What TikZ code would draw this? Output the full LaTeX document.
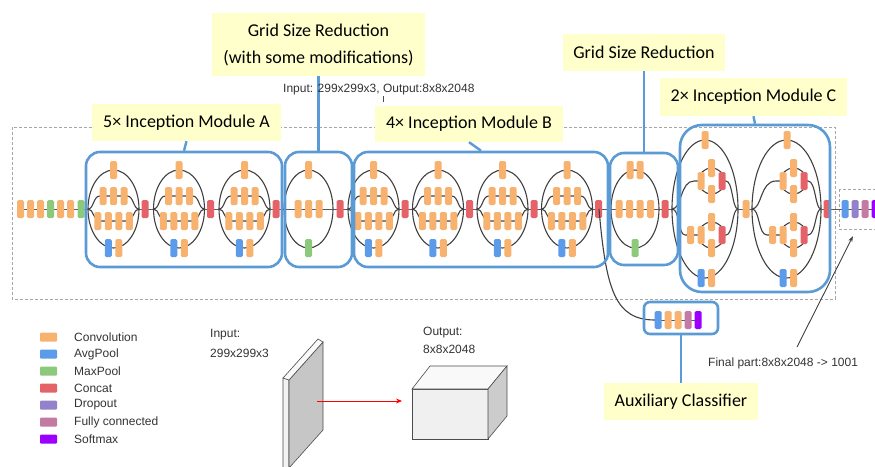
\documentclass[tikz,border=0pt]{standalone}
\usepackage{fontspec}
\setmainfont{Liberation Sans}
\newfontfamily\calfont{Carlito}
\usetikzlibrary{arrows.meta}
\definecolor{cconv}{HTML}{F8B26F}
\definecolor{cavg}{HTML}{5B9BEA}
\definecolor{cmax}{HTML}{8CC97A}
\definecolor{ccat}{HTML}{E46268}
\definecolor{cdrop}{HTML}{9282CC}
\definecolor{cfc}{HTML}{C47BA3}
\definecolor{csoft}{HTML}{9B00FF}
\definecolor{cbox}{HTML}{5B9BD5}
\definecolor{cnote}{HTML}{FFFFCC}
\definecolor{cline}{HTML}{404040}
\tikzset{
 blk/.style={rectangle,rounded corners=1.5pt,minimum width=7pt,minimum height=18pt,inner sep=0pt,draw=none},
 mline/.style={draw=cline,line width=1.1pt},
 trunk/.style={draw=gray!70!black,line width=1pt},
 bbox/.style={draw=cbox,line width=2.6pt,rounded corners=14pt,inner sep=0pt},
 note/.style={fill=cnote,inner sep=0pt,font=\calfont\fontsize{18}{27}\selectfont,align=center},
 bline/.style={draw=cbox,line width=2.4pt},
 small/.style={font=\fontsize{12}{14}\selectfont,inner sep=0pt,text=black!80},
 legsq/.style={rectangle,rounded corners=1pt,minimum width=17pt,minimum height=9pt,inner sep=0pt},
}
\newcommand{\bk}[3]{\node[blk,fill=#1] at (#2,#3) {};}
\newcommand{\incmod}[2]{%
 \pgfmathsetmacro{\mcx}{#1+25.5}%
 \pgfmathsetmacro{\mR}{#1+51}%
 \draw[mline] (\mcx,209) ellipse [x radius=25.5,y radius=39];
 \draw[mline] (#1,209) .. controls (#1+6,209) and (#1+5,196) .. (#1+12,196) -- (\mR-12,196) .. controls (\mR-5,196) and (\mR-6,209) .. (\mR,209);
 \draw[mline] (#1,209) .. controls (#1+6,209) and (#1+5,221) .. (#1+12,221) -- (\mR-12,221) .. controls (\mR-5,221) and (\mR-6,209) .. (\mR,209);
 \draw[trunk] (\mR,209) -- ++(#2,0);
 \bk{cconv}{\mcx}{170}
 \bk{cconv}{\mcx-10.5}{196}\bk{cconv}{\mcx}{196}\bk{cconv}{\mcx+10.5}{196}
 \bk{cconv}{\mcx-15.75}{221}\bk{cconv}{\mcx-5.25}{221}\bk{cconv}{\mcx+5.25}{221}\bk{cconv}{\mcx+15.75}{221}
 \bk{cavg}{\mcx-5.25}{248}\bk{cconv}{\mcx+5.25}{248}
 \bk{ccat}{#1+57}{209}
}
\newcommand{\cmod}[3]{%
 \pgfmathsetmacro{\ccx}{(#1+#2)/2}%
 \pgfmathsetmacro{\crx}{(#2-#1)/2}%
 \draw[mline] (\ccx,209) ellipse [x radius=\crx,y radius=69];
 \draw[mline] (#1,209) .. controls (#1+10,209) and (#1+8,181) .. (694+#3,181) -- (698+#3,181);
 \draw[mline] (711.5+#3,181) circle [radius=13];
 \draw[mline] (722+#3,181) -- (726+#3,181) .. controls (#2-5,181) and (#2-6,209) .. (#2,209);
 \draw[mline] (#1,209) .. controls (#1+8,209) and (#1+6,235) .. (685+#3,235) -- (698+#3,235);
 \draw[mline] (711.5+#3,235) circle [radius=13];
 \draw[mline] (722+#3,235) -- (726+#3,235) .. controls (#2-5,235) and (#2-6,209) .. (#2,209);
 \bk{cconv}{705+#3}{140}
 \bk{cconv}{701+#3}{181}\bk{cconv}{711.5+#3}{168}\bk{cconv}{711.5+#3}{194}\bk{ccat}{722+#3}{181}
 \bk{cconv}{690.5+#3}{235}\bk{cconv}{701+#3}{235}\bk{cconv}{711.5+#3}{222}\bk{cconv}{711.5+#3}{248}\bk{ccat}{722+#3}{235}
 \bk{cavg}{701+#3}{278}\bk{cconv}{711.5+#3}{278}
}
\begin{document}
\begin{tikzpicture}[x=1pt,y=-1pt]
\useasboundingbox (0,0) rectangle (875,466);
\clip (0,0) rectangle (875,466);
% dashed frames
\draw[gray!70,dashed,dash pattern=on 3pt off 2pt,line width=0.8pt] (12,127) rectangle (835,299);
\draw[gray!70,dashed,dash pattern=on 3pt off 2pt,line width=0.8pt] (839,189) rectangle (885,229);
% stem
\draw[trunk] (20,209) -- (88,209);
\bk{cconv}{20.5}{209}\bk{cconv}{30.5}{209}\bk{cconv}{40.5}{209}\bk{cmax}{50.5}{209}
\bk{cconv}{60.5}{209}\bk{cconv}{70.5}{209}\bk{cmax}{81}{209}
% module A
\incmod{88}{14.5}
\incmod{153.5}{14.5}
\incmod{219}{14}
% grid reduction 1
\draw[mline] (308.5,209) ellipse [x radius=24.5,y radius=39];
\draw[trunk] (284,209) -- (348,209);
\bk{cconv}{308.5}{170}
\bk{cconv}{298}{209}\bk{cconv}{308.5}{209}\bk{cconv}{319}{209}
\bk{cmax}{308.5}{248}
\bk{ccat}{340}{209}
% module B
\incmod{348}{13.5}
\incmod{412.5}{13.5}
\incmod{477}{13.5}
\incmod{541.5}{19.5}
% auxiliary branch
\draw[mline] (599,209) .. controls (606,290) and (615,320) .. (655,320);
\draw[trunk] (655,320) -- (698,320);
\bk{cavg}{658}{320}\bk{cconv}{668}{320}\bk{cconv}{678}{320}\bk{cfc}{688}{320}\bk{csoft}{698}{320}
% grid reduction 2
\draw[mline] (635,209) ellipse [x radius=24,y radius=39];
\draw[trunk] (611,209) -- (672,209);
\bk{cconv}{630}{170}\bk{cconv}{640}{170}
\bk{cconv}{619}{209}\bk{cconv}{629.5}{209}\bk{cconv}{640}{209}\bk{cconv}{650.5}{209}
\bk{cmax}{635}{248}
\bk{ccat}{665}{209}
% module C
\cmod{672}{738}{0}
\draw[trunk] (738,209) -- (752,209);
\bk{cconv}{746}{209}
\cmod{752}{821}{82}
\draw[trunk] (821,209) -- (875,209);
\bk{ccat}{827}{209}
\bk{cavg}{845}{209}\bk{cdrop}{855}{209}\bk{cfc}{865}{209}\bk{csoft}{875}{209}
% blue boxes
\node[bbox,minimum width=196pt,minimum height=115pt] (boxA) at (184,209.5) {};
\node[bbox,minimum width=67pt,minimum height=115pt] (boxG1) at (318.5,209.5) {};
\node[bbox,minimum width=254pt,minimum height=115pt] (boxB) at (481,209.5) {};
\node[bbox,minimum width=68pt,minimum height=112pt] (boxG2) at (644,209) {};
\node[bbox,rounded corners=22pt,minimum width=150pt,minimum height=167pt] (boxC) at (755,208.5) {};
\node[bbox,rounded corners=6pt,minimum width=74pt,minimum height=32pt] (boxAux) at (681,318) {};
% callouts
\node[note,minimum width=213pt,minimum height=63pt] (noteG1) at (318.5,44.5) {Grid Size Reduction\\(with some modifications)};
\node[note,minimum width=189pt,minimum height=37pt] (noteA) at (186.5,122.5) {5× Inception Module A};
\node[note,minimum width=188pt,minimum height=36pt] (noteB) at (469,124) {4× Inception Module B};
\node[note,minimum width=162pt,minimum height=37pt] (noteG2) at (644,52.5) {Grid Size Reduction};
\node[note,minimum width=187pt,minimum height=38pt] (noteC) at (753.5,97) {2× Inception Module C};
\node[note,minimum width=154pt,minimum height=37pt] (noteAux) at (681,401.5) {Auxiliary Classifier};
\draw[bline] (noteG1.south) -- (boxG1.north);
\draw[bline] (noteA.south) -- (boxA.north);
\draw[bline] (noteB.south) -- (boxB.north);
\draw[bline] (noteG2.south) -- (boxG2.north);
\draw[bline] (noteC.south) -- (boxC.north);
\draw[bline] (boxAux.south) -- (noteAux.north);
% small texts
\node[small,anchor=west] (io) at (283,90) {Input: 299x299x3, Output:8x8x2048};
\coordinate (tickT) at (383,96);
\coordinate (tickB) at (383,102);
\draw[gray!60!black,line width=0.8pt] (tickT) -- (tickB);
\node[small,anchor=west] (fin) at (708,363) {Final part:8x8x2048 -> 1001};
\coordinate (finTail) at (797,347);
\coordinate (finTip) at (853,236);
\draw[cline,line width=0.9pt,-{Stealth[length=6pt,width=4pt]}] (finTail) -- (finTip);
% legend
\foreach \c/\t [count=\i from 0] in {cconv/Convolution,cavg/AvgPool,cmax/MaxPool,ccat/Concat,cdrop/Dropout,cfc/Fully connected,csoft/Softmax}{
  \node[legsq,fill=\c] (lg\i) at (48.5,337+17*\i) {};
  \node[small,anchor=west] (lt\i) at (74,337+17*\i) {\t};
}
% input slab
\node[small,anchor=west] (inl1) at (210,335) {Input:};
\node[small,anchor=west] (inl2) at (210,353) {299x299x3};
\fill[gray!10,draw=black!70,line width=0.6pt] (283,378) -- (289,380) -- (289,470) -- (283,470) -- cycle;
\fill[gray!45,draw=black!70,line width=0.6pt] (289,380) -- (323,342) -- (323,430) -- (289,468) -- cycle;
\fill[gray!5,draw=black!70,line width=0.6pt] (283,378) -- (318,339) -- (323,342) -- (289,380) -- cycle;
\coordinate (arrS) at (317,401);
\coordinate (arrE) at (402,401);
\draw[red,line width=0.8pt,-{Stealth[length=6pt,width=5pt]}] (arrS) -- (arrE);
% output box
\node[small,anchor=west] (outl1) at (423,333) {Output:};
\node[small,anchor=west] (outl2) at (423,349) {8x8x2048};
\fill[gray!12,draw=black!70,line width=0.6pt] (412,389) rectangle (488,439);
\fill[gray!5,draw=black!70,line width=0.6pt] (412,389) -- (430,366) -- (507,366) -- (488,389) -- cycle;
\fill[gray!40,draw=black!70,line width=0.6pt] (488,389) -- (507,366) -- (507,416) -- (488,439) -- cycle;
\end{tikzpicture}
\end{document}
